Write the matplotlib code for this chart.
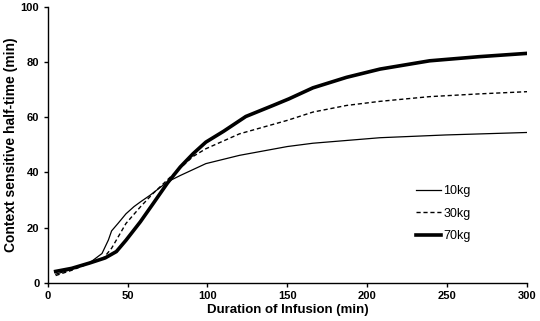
import numpy as np
import matplotlib.pyplot as plt

plt.rcParams['font.family'] = ['Liberation Sans', 'DejaVu Sans']

# Valores
x10 = [5, 15, 26, 34, 38, 40, 44, 49, 54, 58, 64, 75, 83, 99, 120, 150, 166, 208, 249, 300]
y10 = [3.1, 4.8, 7.1, 10.6, 15.5, 18.8, 21.5, 25.0, 27.6, 29.3, 31.7, 36.6, 38.9, 43.2, 46.2, 49.4, 50.6, 52.6, 53.6, 54.5]

x30 = [5, 15, 26, 35, 40, 45, 49, 58, 66, 78, 91, 99, 120, 150, 166, 187, 208, 239, 270, 300]
y30 = [2.6, 4.5, 7.0, 9.0, 12.5, 17.5, 21.5, 27.5, 32.4, 39.0, 45.8, 48.6, 54.0, 58.9, 61.9, 64.3, 65.8, 67.5, 68.5, 69.3]

x70 = [5, 15, 26, 36, 43, 49, 58, 66, 75, 83, 91, 99, 110, 124, 141, 151, 166, 187, 208, 239, 270, 300]
y70 = [4.1, 5.2, 7.1, 9.0, 11.3, 15.4, 22.1, 28.7, 36.2, 42.0, 46.8, 51.0, 54.9, 60.3, 64.3, 66.7, 70.7, 74.5, 77.5, 80.5, 82.0, 83.2]

fig = plt.figure(figsize=(5.4, 3.21), dpi=100)
ax = fig.add_axes([0.0883, 0.1193, 0.8877, 0.8587])

ax.plot(x10, y10, color='black', lw=0.9, label='10kg')
ax.plot(x30, y30, color='black', lw=1.0, ls=(0, (3, 2)), label='30kg')
ax.plot(x70, y70, color='black', lw=2.6, label='70kg')

ax.set_xlim(0, 300)
ax.set_ylim(0, 100)
ax.set_xticks([0, 50, 100, 150, 200, 250, 300])
ax.set_yticks([0, 20, 40, 60, 80, 100])
for s in ['top', 'right']:
    ax.spines[s].set_visible(False)
for s in ['left', 'bottom']:
    ax.spines[s].set_linewidth(1.0)
ax.tick_params(direction='out', length=3, width=1, labelsize=8, pad=3)
for lbl in ax.get_xticklabels() + ax.get_yticklabels():
    lbl.set_fontweight('bold')

ax.set_xlabel('Duration of Infusion (min)', fontsize=9.5, fontweight='bold', labelpad=2)
ax.set_ylabel('Context sensitive half-time (min)', fontsize=10, fontweight='bold', labelpad=2)

ax.legend(frameon=False, fontsize=9, handlelength=2.0, labelspacing=0.85,
          handletextpad=0.2, loc='center left', bbox_to_anchor=(0.745, 0.25))

fig.savefig('out.png', dpi=100)
